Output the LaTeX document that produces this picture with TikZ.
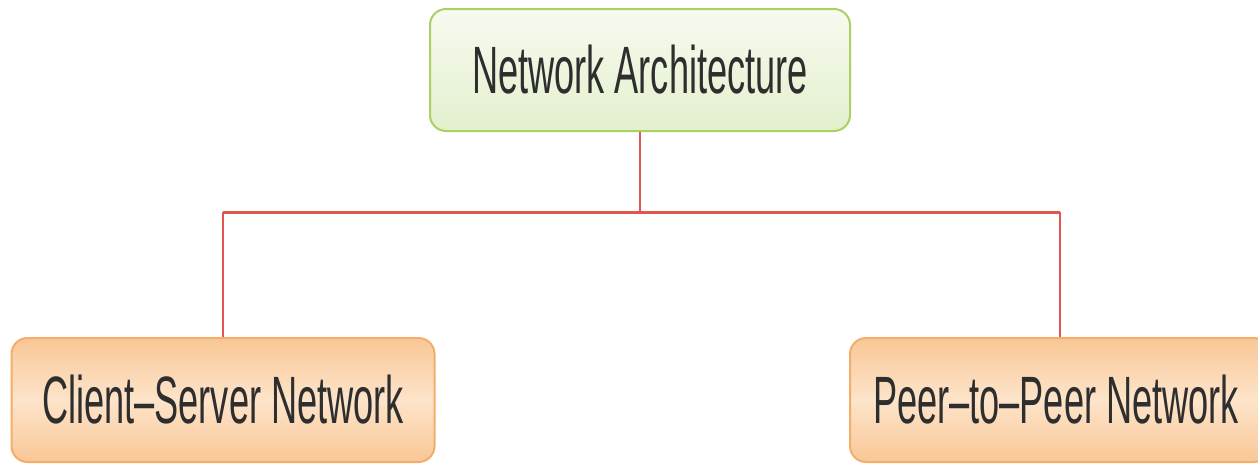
\documentclass[tikz,border=0pt]{standalone}
\usepackage{fontspec}
\setmainfont{Liberation Sans}
\newfontfamily\narrowfont{Liberation Sans}[FakeStretch=0.54]
\usetikzlibrary{positioning}
\definecolor{txt}{HTML}{2E2E2E}
\definecolor{greenedge}{HTML}{A9D163}
\definecolor{greentop}{HTML}{F7FBF0}
\definecolor{greenbot}{HTML}{E3F0CD}
\definecolor{orangeedge}{HTML}{F2AE6A}
\definecolor{orangeout}{HTML}{F9C796}
\definecolor{orangemid}{HTML}{FDE4CA}
\definecolor{linkred}{HTML}{E0574F}
\tikzset{
  x=1pt, y=-1pt,
  box/.style={rounded corners=16pt, line width=2pt, inner sep=0pt,
    font=\narrowfont\fontsize{67}{70}\selectfont, text=txt},
  rootbox/.style={box, draw=greenedge, top color=greentop, bottom color=greenbot,
    minimum width=420pt, minimum height=122pt},
  leafbox/.style={box, draw=orangeedge, top color=orangeout,
    bottom color=orangeout, middle color=orangemid, minimum height=124pt},
  link/.style={draw=linkred, line width=2pt},
  bus/.style={draw=linkred, line width=3pt}
}
\begin{document}
\begin{tikzpicture}
\useasboundingbox (0,0) rectangle (1258,464);
\clip (0,0) rectangle (1258,464);
\node[rootbox] (root) at (640,70) {Network Architecture};
\node[leafbox, minimum width=423pt] (cs) at (223,400) {Client–Server Network};
\node[leafbox, minimum width=420pt] (pp) at (1060,400) {\hspace*{-8pt}Peer–to–Peer Network};
\coordinate (hub) at (640,212);
\coordinate (busL) at (cs.north |- hub);
\coordinate (busR) at (pp.north |- hub);
\draw[link] (root.south) -- (hub);
\draw[bus] (busL) -- (busR);
\draw[link] (busL) -- (cs.north);
\draw[link] (busR) -- (pp.north);
\end{tikzpicture}
\end{document}
